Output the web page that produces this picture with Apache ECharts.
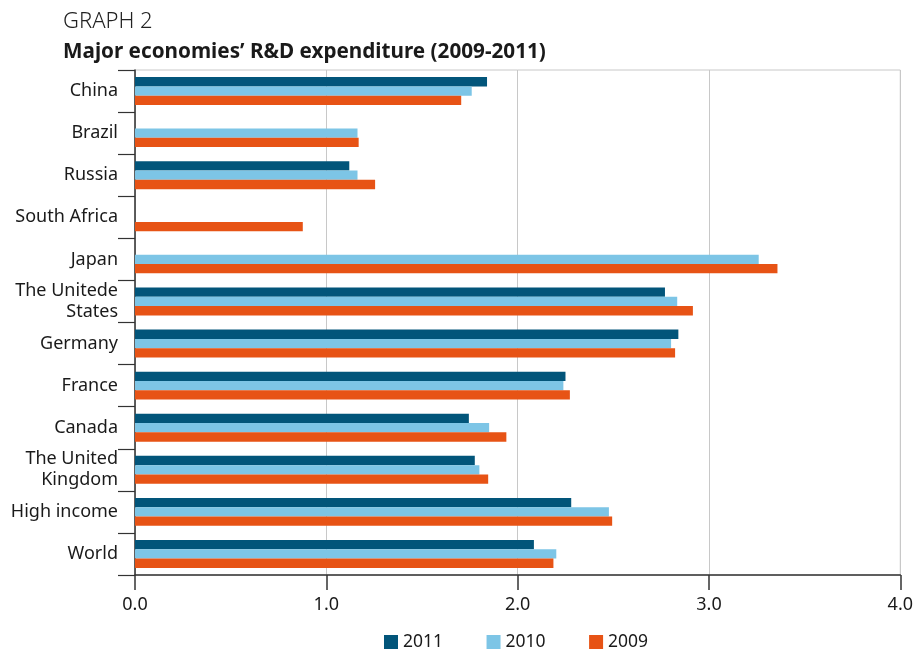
<!DOCTYPE html>
<html>
<head>
<meta charset="utf-8">
<script src="https://cdn.jsdelivr.net/npm/echarts@6/dist/echarts.min.js"></script>
<style>html,body{margin:0;padding:0;background:#fff}#c{width:916px;height:650px}</style>
</head>
<body>
<div id="c"></div>
<script>
const categories = ['China', 'Brazil', 'Russia', 'South Africa', 'Japan', 'The Unitede\nStates', 'Germany', 'France', 'Canada', 'The United\nKingdom', 'High income', 'World'];
const seriesNames = ['2011', '2010', '2009'];
const values2011 = [1.84, null, 1.12, null, null, 2.77, 2.84, 2.25, 1.745, 1.776, 2.28, 2.085];
const values2010 = [1.76, 1.163, 1.163, null, 3.26, 2.834, 2.802, 2.239, 1.851, 1.80, 2.477, 2.202];
const values2009 = [1.705, 1.169, 1.255, 0.877, 3.358, 2.916, 2.823, 2.273, 1.941, 1.846, 2.494, 2.187];
const xTicks = [0, 1, 2, 3, 4];
const colors = ['#02557A', '#7DC5E6', '#E75315'];

const chart = echarts.init(document.getElementById('c'), null, {renderer: 'canvas'});
const font = 'Noto Sans';
const seriesData = [values2011, values2010, values2009];
chart.setOption({
  animation: false,
  color: colors,
  title: [
    {text: 'GRAPH 2', left: 58, top: 6, textStyle: {fontFamily: font, fontWeight: 300, fontSize: 22, color: '#222'}},
    {text: 'Major economies\u2019 R&D expenditure (2009-2011)', left: 58, top: 37, textStyle: {fontFamily: font, fontWeight: 'bold', fontSize: 20.7, color: '#1a1a1a'}}
  ],
  legend: {
    top: 628, left: 379,
    itemWidth: 14, itemHeight: 14, itemGap: 43.5, icon: 'rect',
    textStyle: {fontFamily: font, fontSize: 17.5, color: '#1a1a1a'},
    data: seriesNames
  },
  grid: {left: 135, right: 14, top: 70, bottom: 75, show: true, borderColor: '#c8c8c8', borderWidth: 1},
  xAxis: {
    type: 'value', min: xTicks[0], max: xTicks[xTicks.length - 1], interval: 1,
    axisLine: {show: true, lineStyle: {color: '#333', width: 1.5}},
    axisTick: {show: true, length: 15, lineStyle: {color: '#333', width: 1.5}},
    axisLabel: {fontFamily: font, fontSize: 18, color: '#1a1a1a', margin: 21, formatter: v => v.toFixed(1)},
    splitLine: {show: true, lineStyle: {color: '#c8c8c8', width: 1}}
  },
  yAxis: {
    type: 'category', inverse: true, data: categories,
    axisLine: {show: true, lineStyle: {color: '#333', width: 1.5}},
    axisTick: {show: true, length: 17, lineStyle: {color: '#333', width: 1.2}},
    axisLabel: {fontFamily: font, fontSize: 18, color: '#1a1a1a', margin: 17, lineHeight: 21, align: 'right'},
    splitLine: {show: false}
  },
  series: seriesNames.map((n, i) => ({
    name: n, type: 'bar', data: seriesData[i], barWidth: 9.3, barGap: '0%',
    itemStyle: {color: colors[i]}
  }))
});
</script>
</body>
</html>
